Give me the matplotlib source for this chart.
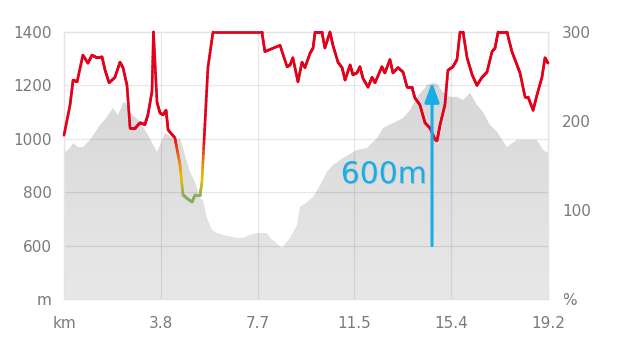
import matplotlib
matplotlib.use("Agg")
import matplotlib.pyplot as plt
import matplotlib.patheffects as pe
import numpy as np
from matplotlib.collections import LineCollection
from matplotlib.colors import LinearSegmentedColormap, Normalize

# elevation profile (km, m)
elev_km = [0.0, 0.24, 0.36, 0.56, 0.75, 1.03, 1.43, 1.71, 1.94, 2.14, 2.34, 2.42,
           2.62, 3.02, 3.33, 3.69, 3.81, 4.01, 4.40, 4.60, 4.80, 5.00, 5.20, 5.40,
           5.51, 5.67, 5.87, 6.07, 6.31, 6.86, 7.10, 7.38, 7.66, 7.78, 8.05, 8.17,
           8.65, 8.97, 9.24, 9.36, 9.64, 9.88, 10.16, 10.43, 10.67, 11.07, 11.62,
           12.02, 12.42, 12.65, 13.05, 13.45, 13.73, 14.00, 14.32, 14.40, 14.64,
           14.80, 15.03, 15.31, 15.59, 15.83, 16.11, 16.38, 16.62, 16.90, 17.18,
           17.57, 17.97, 18.37, 18.76, 19.00, 19.20]
elev_m = [947, 966, 984, 969, 969, 996, 1052, 1082, 1115, 1089, 1134, 1138,
          1100, 1063, 1014, 951, 977, 1022, 996, 1003, 939, 876, 838, 778,
          771, 703, 659, 647, 640, 629, 629, 640, 647, 647, 647, 629,
          591, 629, 677, 745, 763, 782, 827, 876, 902, 928, 958,
          966, 1003, 1040, 1059, 1078, 1108, 1157, 1190, 1202, 1209,
          1205, 1175, 1157, 1157, 1145, 1172, 1127, 1100, 1052, 1026,
          969, 996, 996, 996, 958, 947]

# red series on the right axis (%)
pct_km = [0.0, 0.24, 0.36, 0.52, 0.75, 0.95, 1.11, 1.31, 1.51, 1.63, 1.79, 2.02,
          2.22, 2.34, 2.50, 2.62, 2.82, 3.02, 3.21, 3.33, 3.49, 3.55, 3.69, 3.81,
          3.93, 4.05, 4.13, 4.40, 4.60, 4.72, 4.88, 5.08, 5.20, 5.40, 5.47, 5.59,
          5.71, 5.91, 7.85, 7.97, 8.57, 8.85, 8.97, 9.08, 9.28, 9.44, 9.56, 9.76,
          9.88, 9.96, 10.23, 10.35, 10.55, 10.67, 10.87, 11.03, 11.15, 11.35,
          11.46, 11.62, 11.74, 11.86, 12.06, 12.22, 12.34, 12.61, 12.73, 12.93,
          13.05, 13.25, 13.45, 13.61, 13.80, 13.92, 14.12, 14.32, 14.52, 14.72,
          14.80, 14.92, 15.11, 15.23, 15.43, 15.59, 15.71, 15.83, 15.99, 16.19,
          16.38, 16.58, 16.78, 16.98, 17.10, 17.22, 17.57, 17.77, 17.97, 18.09,
          18.29, 18.41, 18.61, 18.76, 18.96, 19.08, 19.20]
pct_val = [184, 218, 246, 244, 274, 265, 274, 271, 272, 257, 243, 249,
           266, 260, 240, 192, 192, 198, 196, 207, 233, 300, 221, 209,
           207, 212, 190, 181, 151, 117, 113, 109, 117, 117, 131, 196,
           260, 300, 300, 278, 285, 261, 263, 271, 244, 266, 260, 276,
           282, 300, 300, 282, 300, 285, 266, 260, 246, 263,
           252, 254, 261, 248, 238, 249, 243, 261, 254, 269,
           254, 260, 255, 238, 238, 226, 218, 198, 192, 179,
           178, 196, 218, 257, 261, 269, 300, 300, 271, 252,
           240, 249, 255, 278, 282, 300, 300, 278, 263, 254,
           227, 227, 212, 229, 249, 271, 265]

x_ticks = [0, 3.84, 7.68, 11.52, 15.36, 19.2]
x_labels = ['km', '3.8', '7.7', '11.5', '15.4', '19.2']
left_ticks = [400, 600, 800, 1000, 1200, 1400]
left_labels = ['m', '600', '800', '1000', '1200', '1400']
right_ticks = [0, 100, 200, 300]
right_labels = ['%', '100', '200', '300']

TICK_COLOR = '#7a7a7a'
GRID_COLOR = (0, 0, 0, 0.09)
BLUE = '#18ade6'

fig = plt.figure(figsize=(6.24, 3.58), dpi=100)
ax = fig.add_axes([64 / 624, 59 / 358, 484 / 624, 267 / 358])
ax2 = ax.twinx()

ax.set_xlim(0, 19.2)
ax.set_ylim(400, 1400)
ax2.set_ylim(0, 300)

# elevation area with vertical gradient
poly = ax.fill_between(elev_km, elev_m, 400, color='none', linewidth=0)
grad = np.linspace(0, 1, 256).reshape(-1, 1)
img = ax.imshow(grad, extent=[0, 19.2, 400, 1400], origin='lower', aspect='auto',
                cmap=LinearSegmentedColormap.from_list('g', ['#e8e8e8', '#d3d3d3']),
                zorder=1)
img.set_clip_path(poly.get_paths()[0], transform=ax.transData)

# grid on top of the area
for y in left_ticks[1:-1]:
    ax.axhline(y, color=GRID_COLOR, lw=0.9, zorder=2)
for x in x_ticks[1:-1]:
    ax.axvline(x, color=GRID_COLOR, lw=0.9, zorder=2)

for a in (ax, ax2):
    for s in a.spines.values():
        s.set_color('#e4e4e4')
        s.set_linewidth(0.9)

ax.set_xticks(x_ticks)
ax.set_xticklabels(x_labels)
ax.set_yticks(left_ticks)
ax.set_yticklabels(left_labels)
ax2.set_yticks(right_ticks)
ax2.set_yticklabels(right_labels)
ax.tick_params(axis='x', length=0, pad=12, labelsize=11, labelcolor=TICK_COLOR)
ax.tick_params(axis='y', length=0, pad=9, labelsize=11, labelcolor=TICK_COLOR)
ax2.tick_params(axis='y', length=0, pad=10, labelsize=11, labelcolor=TICK_COLOR)

# red line coloured by value (green at low values)
cmap = LinearSegmentedColormap.from_list(
    'hr', [(0.0, '#86ad62'), (0.3, '#e6c200'), (0.6, '#ec7e12'), (1.0, '#e2001a')])
norm = Normalize(115, 182)
xs = np.asarray(pct_km)
ys = np.asarray(pct_val, dtype=float)
segs, cols = [], []
for i in range(len(xs) - 1):
    t = np.linspace(0, 1, 13)
    sx = xs[i] + (xs[i + 1] - xs[i]) * t
    sy = ys[i] + (ys[i + 1] - ys[i]) * t
    for j in range(len(t) - 1):
        segs.append([(sx[j], sy[j]), (sx[j + 1], sy[j + 1])])
        cols.append(cmap(norm((sy[j] + sy[j + 1]) / 2)))
lc = LineCollection(segs, colors=cols, linewidths=1.9, capstyle='round',
                    joinstyle='round', clip_on=False, zorder=3)
ax2.add_collection(lc)

# climb annotation
shadow = [pe.SimplePatchShadow(offset=(0.6, -0.6), alpha=0.15), pe.Normal()]
ax2.annotate('', xy=(14.60, 1212), xytext=(14.60, 600),
             xycoords=ax.transData, textcoords=ax.transData,
             arrowprops=dict(arrowstyle='-|>,head_length=0.6,head_width=0.22',
                             mutation_scale=20, color=BLUE, lw=2.2,
                             shrinkA=0, shrinkB=0, path_effects=shadow),
             zorder=5)
ax2.text(14.40, 834, '600m', transform=ax.transData, ha='right', va='baseline',
         fontsize=21.5, color=BLUE, zorder=5,
         path_effects=[pe.withSimplePatchShadow(offset=(0.6, -0.6), alpha=0.15)])

fig.savefig('out.png', dpi=100, facecolor='white')
